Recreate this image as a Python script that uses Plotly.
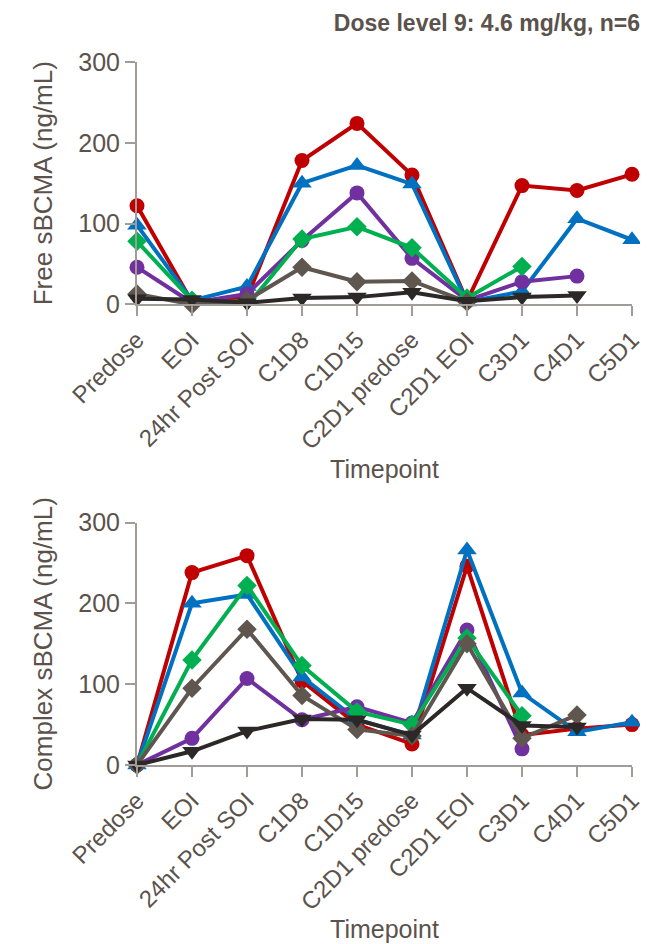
import plotly.graph_objects as go
from plotly.subplots import make_subplots

categories = ["Predose", "EOI", "24hr Post SOI", "C1D8", "C1D15",
              "C2D1 predose", "C2D1 EOI", "C3D1", "C4D1", "C5D1"]

# Free sBCMA (ng/mL) per patient
free_red = [122, 3, 8, 178, 224, 160, 4, 147, 141, 161]
free_blue = [98, 5, 22, 150, 172, 149, 3, 16, 106, 80]
free_purple = [46, 2, 13, 79, 138, 57, 5, 28, 35, None]
free_green = [78, 5, -2, 81, 96, 70, 8, 47, None, None]
free_grey = [13, 0, 5, 46, 28, 29, 3, None, None, None]
free_black = [7, 6, 2, 8, 9, 15, 4, 9, 11, None]

# Complex sBCMA (ng/mL) per patient
cplx_red = [0, 238, 259, 104, 50, 26, 246, 37, 45, 50]
cplx_blue = [0, 200, 211, 109, 56, 37, 266, 89, 41, 53]
cplx_purple = [0, 33, 107, 56, 72, 52, 167, 20, None, None]
cplx_green = [0, 130, 222, 123, 66, 50, 157, 61, None, None]
cplx_grey = [0, 95, 168, 86, 44, 36, 150, 33, 62, None]
cplx_black = [0, 17, 42, 57, 56, 37, 95, 49, 47, None]

series_names = ["Patient 1", "Patient 2", "Patient 3", "Patient 4", "Patient 5", "Patient 6"]
colors = ["#c00000", "#0070c0", "#7030a0", "#00b050", "#5f5650", "#2b2827"]
symbols = ["circle", "triangle-up", "circle", "diamond", "diamond", "triangle-down"]
sizes = [15, 17, 15, 15, 15, 17]

free_all = [free_red, free_blue, free_purple, free_green, free_grey, free_black]
cplx_all = [cplx_red, cplx_blue, cplx_purple, cplx_green, cplx_grey, cplx_black]

txt = "#5b524c"
axc = "#a19c98"
font_family = "Liberation Sans, Arial, sans-serif"

fig = make_subplots(rows=2, cols=1)

for row, data in ((1, free_all), (2, cplx_all)):
    for name, vals, col, sym, sz in zip(series_names, data, colors, symbols, sizes):
        fig.add_trace(go.Scatter(
            x=categories, y=vals, name=name, mode="lines+markers",
            line=dict(color=col, width=4),
            marker=dict(symbol=sym, size=sz, color=col, line=dict(width=0)),
            cliponaxis=False, connectgaps=False, showlegend=False,
        ), row=row, col=1)

H = 944
plot_top, plot_bot = 54, 757.3
top_zero, bot_top = 296.5, 514.7
span = plot_bot - plot_top
top_dom = [(plot_bot - top_zero) / span, 1]
bot_dom = [0, (plot_bot - bot_top) / span]

xcommon = dict(
    type="category", range=[0, 9], tickmode="array", tickvals=categories,
    ticktext=categories, tickangle=-45, showgrid=False, zeroline=False,
    showline=True, linecolor=axc, linewidth=2, ticks="outside", ticklen=10,
    tickwidth=2, tickcolor=axc, tickfont=dict(size=24, color=txt),
    title=dict(text="Timepoint", font=dict(size=25, color=txt), standoff=0),
)
ycommon = dict(
    range=[0, 300], tickvals=[0, 100, 200, 300], showgrid=False, zeroline=False,
    showline=True, linecolor=axc, linewidth=2, ticks="outside", ticklen=10,
    tickwidth=2, tickcolor=axc, tickfont=dict(size=25, color=txt),
)

fig.update_xaxes(**xcommon)
fig.update_yaxes(**ycommon)
fig.update_yaxes(domain=top_dom, title=dict(text="Free sBCMA (ng/mL)", font=dict(size=26, color=txt), standoff=18), row=1, col=1)
fig.update_yaxes(domain=bot_dom, title=dict(text="Complex sBCMA (ng/mL)", font=dict(size=26, color=txt), standoff=18), row=2, col=1)

fig.update_layout(
    width=648, height=944,
    margin=dict(l=129, r=18, t=plot_top, b=H - plot_bot),
    paper_bgcolor="white", plot_bgcolor="white",
    font=dict(family=font_family, color=txt),
    title=dict(text="<b>Dose level 9: 4.6 mg/kg, n=6</b>", xref="container", yref="container",
               x=632 / 648, xanchor="right", y=1 - 15 / H, yanchor="middle",
               font=dict(size=23, color=txt, family=font_family)),
)

fig.write_html("out.html")
